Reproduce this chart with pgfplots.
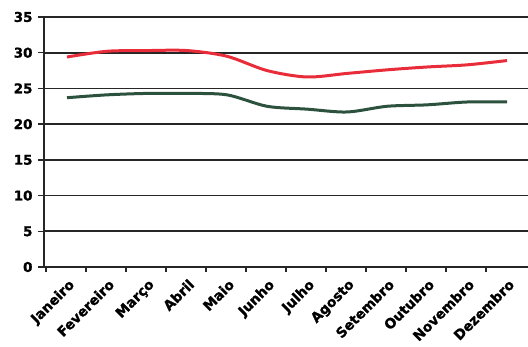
\documentclass[border=0pt]{standalone}
\usepackage{fontspec}
\usepackage{pgfplots}
\pgfplotsset{compat=1.18}
\newfontfamily\labfont[FakeBold=1.2]{DejaVu Sans Bold}
\definecolor{tmax}{RGB}{232,44,58}
\definecolor{tmin}{RGB}{44,82,62}
\begin{document}
\begin{tikzpicture}
\begin{axis}[
  name=a,
  scale only axis,
  width=484bp, height=250bp,
  xmin=-0.575, xmax=11.525,
  ymin=0, ymax=35,
  axis x line=bottom, axis y line=left,
  axis line style={-, line width=1.6bp, black!85},
  xtick={0,...,11},
  xticklabels={Janeiro,Fevereiro,Março,Abril,Maio,Junho,Julho,Agosto,Setembro,Outubro,Novembro,Dezembro},
  major x tick style={draw=none},
  minor xtick={-0.525,0.475,1.475,2.475,3.475,4.475,5.475,6.475,7.475,8.475,9.475,10.475},
  minor x tick style={line width=1.4bp, black!85},
  minor tick length=5bp,
  ytick={0,5,...,35},
  tick align=outside,
  major tick length=6bp,
  y tick style={line width=1.4bp, black!85},
  ymajorgrids,
  grid style={line width=1.6bp, black!85},
  /pgf/number format/assume math mode=true,
  yticklabel style={font=\labfont\fontsize{13.5}{14}\selectfont, xshift=-2bp},
  xticklabel style={font=\labfont\fontsize{13.8}{14}\selectfont, rotate=45, anchor=north east, inner sep=0bp, yshift=-4bp, xshift=-3bp},
  clip=false,
]
\addplot[tmax, line width=3bp, smooth, tension=0.5] coordinates {
 (0,29.4) (1,30.2) (2,30.3) (3,30.3) (4,29.5) (5,27.5) (6,26.6) (7,27.1) (8,27.6) (9,28.0) (10,28.3) (11,28.9)};
\addplot[tmin, line width=3bp, smooth, tension=0.5] coordinates {
 (0,23.7) (1,24.1) (2,24.3) (3,24.3) (4,24.1) (5,22.5) (6,22.1) (7,21.7) (8,22.5) (9,22.7) (10,23.1) (11,23.1)};
\end{axis}
\pgfresetboundingbox
\path ([shift={(-44bp,-80bp)}]a.south west) rectangle ([shift={(0bp,17bp)}]a.north east);
\end{tikzpicture}
\end{document}
